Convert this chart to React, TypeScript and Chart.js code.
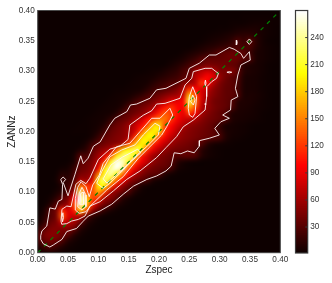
import React, { useEffect, useRef } from "react";
import { Chart, registerables } from "chart.js";

Chart.register(...registerables);

const FONT = "'Liberation Sans', Arial, sans-serif";
const V_MIN = 1.2;
const V_MAX = 270;

const heatStep = 0.01;
const heatBackground = 2;
// each row: y = index * 0.01, [first column index, ...values from that column on]
const heatRows: number[][] = [
  [0, 4, 7, 9, 7, 4, 3],
  [0, 10, 22, 30, 22, 11, 5, 3],
  [0, 22, 36, 44, 40, 30, 12, 6, 3],
  [0, 26, 44, 52, 50, 40, 32, 14, 6, 3],
  [0, 14, 32, 46, 50, 48, 50, 40, 14, 6, 3],
  [0, 6, 16, 38, 46, 76, 70, 62, 38, 14, 6, 3],
  [0, 3, 10, 30, 42, 135, 85, 75, 68, 34, 16, 7, 3],
  [0, 2, 6, 30, 42, 115, 82, 110, 180, 130, 58, 34, 18, 8, 4],
  [1, 3, 10, 30, 46, 60, 130, 260, 185, 112, 62, 42, 32, 12, 6, 3],
  [2, 5, 14, 32, 46, 100, 270, 190, 125, 122, 62, 50, 36, 14, 7, 3],
  [3, 6, 14, 30, 65, 235, 125, 130, 165, 125, 65, 50, 37, 26, 10, 4],
  [3, 3, 10, 22, 42, 145, 125, 118, 195, 195, 130, 85, 55, 38, 26, 9, 4],
  [3, 4, 20, 14, 28, 65, 58, 85, 195, 235, 195, 140, 100, 60, 45, 34, 26, 10, 5, 3],
  [3, 3, 12, 10, 24, 45, 50, 60, 150, 210, 250, 205, 145, 100, 68, 52, 40, 36, 32, 12, 5, 3],
  [4, 4, 6, 18, 38, 42, 55, 90, 190, 240, 270, 240, 135, 95, 70, 52, 42, 38, 35, 26, 8, 4, 3],
  [5, 3, 8, 34, 38, 48, 72, 120, 205, 262, 255, 205, 130, 95, 75, 55, 45, 40, 34, 14, 7, 4, 3],
  [6, 6, 30, 25, 42, 60, 85, 125, 195, 232, 238, 200, 115, 85, 60, 50, 44, 38, 30, 34, 34, 30, 12, 6, 4, 3],
  [6, 3, 8, 15, 34, 48, 58, 70, 130, 185, 205, 225, 205, 120, 90, 68, 55, 46, 42, 40, 38, 32, 14, 7, 4, 3],
  [7, 3, 8, 22, 34, 42, 48, 52, 62, 128, 170, 195, 190, 120, 95, 72, 60, 50, 46, 42, 36, 30, 14, 7, 5, 4, 3],
  [8, 3, 8, 20, 36, 42, 48, 52, 65, 120, 185, 198, 195, 120, 95, 72, 60, 52, 48, 44, 40, 36, 32, 26, 10, 5, 4, 3],
  [6, 3, 3, 3, 5, 10, 24, 38, 44, 50, 62, 80, 125, 185, 195, 188, 112, 90, 68, 56, 50, 46, 42, 38, 34, 22, 9, 6, 5, 4, 3],
  [7, 3, 3, 4, 6, 12, 30, 40, 46, 60, 75, 95, 125, 185, 190, 122, 100, 82, 68, 55, 50, 45, 40, 33, 18, 7, 6, 5, 4, 3],
  [8, 3, 4, 5, 7, 16, 30, 38, 44, 60, 75, 100, 128, 150, 145, 120, 95, 82, 72, 65, 52, 44, 40, 36, 28, 10, 7, 6, 5, 4, 3],
  [9, 3, 4, 5, 6, 12, 28, 36, 42, 50, 62, 85, 110, 135, 122, 105, 90, 120, 95, 64, 50, 42, 36, 28, 10, 8, 7, 6, 5, 3],
  [10, 3, 4, 5, 6, 12, 28, 36, 42, 50, 62, 85, 105, 120, 100, 95, 165, 125, 72, 56, 46, 40, 36, 28, 10, 8, 7, 5, 4, 3],
  [11, 3, 4, 5, 7, 12, 22, 30, 36, 46, 56, 70, 85, 90, 100, 215, 145, 80, 58, 44, 40, 36, 30, 12, 9, 8, 6, 4, 3],
  [12, 3, 4, 5, 6, 10, 16, 24, 32, 42, 50, 58, 62, 78, 178, 125, 85, 62, 50, 42, 36, 34, 28, 8, 8, 7, 5, 3],
  [13, 3, 3, 4, 5, 6, 12, 20, 26, 32, 38, 48, 68, 120, 100, 85, 72, 54, 44, 36, 34, 24, 8, 7, 6, 4, 3],
  [15, 3, 4, 5, 6, 12, 18, 22, 28, 30, 48, 60, 72, 120, 98, 68, 48, 38, 34, 26, 8, 7, 6, 4, 3],
  [16, 3, 4, 5, 6, 10, 14, 18, 22, 30, 40, 72, 85, 100, 85, 58, 42, 34, 28, 9, 7, 6, 4, 3],
  [18, 3, 4, 5, 8, 12, 16, 26, 34, 58, 70, 78, 70, 48, 45, 50, 34, 12, 9, 7, 5, 3],
  [21, 3, 6, 10, 16, 24, 34, 40, 46, 44, 42, 40, 36, 32, 12, 9, 7, 5, 3],
  [22, 3, 5, 8, 14, 20, 30, 36, 36, 36, 38, 40, 38, 32, 28, 8, 6, 4, 3],
  [24, 4, 7, 10, 14, 18, 24, 32, 36, 38, 36, 32, 20, 8, 6, 4, 3],
  [26, 4, 7, 10, 12, 16, 20, 24, 26, 24, 26, 12, 6, 4, 3],
  [27, 3, 5, 7, 9, 11, 16, 28, 18, 32, 14, 6, 3],
  [28, 3, 4, 5, 7, 9, 12, 14, 14, 10, 6, 4, 3],
  [30, 3, 3, 4, 6, 7, 8, 8, 6, 4, 3],
  [32, 3, 3, 3, 4, 5, 5, 4, 3, 3],
  [34, 3, 3, 3, 3, 3, 3, 3],
  [40],
];

const contourOuter = [
  [.005,.028],[.007,.036],[.015,.044],[.020,.074],[.029,.072],[.034,.085],[.040,.088],[.041,.113],[.038,.121],[.042,.125],[.046,.121],[.042,.116],[.050,.094],[.0615,.1295],[.071,.160],[.075,.147],[.083,.156],[.092,.176],[.103,.183],[.119,.211],[.127,.222],[.147,.233],[.153,.244],[.163,.2455],[.185,.255],[.196,.269],[.2115,.2715],[.2445,.288],[.25,.3045],[.2665,.313],[.283,.3265],[.294,.3265],[.316,.339],[.324,.336],[.335,.329],[.3395,.321],[.349,.332],[.3505,.318],[.335,.310],[.33,.2935],[.326,.2715],[.33,.2577],[.319,.252],[.318,.2357],[.305,.2274],[.316,.222],[.302,.2163],[.292,.2054],[.2995,.1944],[.283,.189],[.2665,.185],[.2665,.176],[.258,.165],[.247,.168],[.236,.1635],[.225,.165],[.22,.143],[.2115,.135],[.196,.1267],[.18,.121],[.158,.110],[.141,.0965],[.122,.080],[.103,.069],[.0835,.0605],[.075,.052],[.064,.040],[.048,.035],[.040,.022],[.0257,.0127],[.02,.0094],[.009,.0149],[.005,.022],[.005,.028],
];
const contourSecond = [
  [.0384,.0523],[.040,.0717],[.048,.077],[.055,.076],[.063,.113],[.071,.1196],[.0796,.114],[.086,.123],[.100,.154],[.119,.171],[.136,.176],[.149,.187],[.152,.211],[.174,.227],[.188,.2345],[.196,.2455],[.21,.2467],[.2346,.255],[.243,.277],[.254,.288],[.2566,.299],[.276,.3045],[.287,.3045],[.298,.296],[.295,.288],[.287,.2825],[.2786,.274],[.2786,.2577],[.276,.2357],[.2566,.219],[.240,.208],[.229,.1916],[.2115,.1734],[.196,.157],[.1687,.135],[.1467,.121],[.1247,.102],[.1027,.0842],[.0862,.077],[.078,.0606],[.067,.055],[.056,.0523],[.048,.048],[.0396,.047],[.0384,.0523],
];
const contourThird = [
  [.062,.0705],[.062,.0898],[.066,.108],[.0714,.1173],[.0796,.109],[.085,.0925],[.0907,.1118],[.1016,.1283],[.108,.1476],[.130,.175],[.152,.1807],[.1687,.200],[.188,.222],[.2016,.222],[.218,.2385],[.2226,.2274],[.2127,.208],[.2044,.1944],[.1824,.1724],[.166,.156],[.141,.1255],[.1138,.1035],[.088,.0785],[.0796,.0677],[.0686,.065],[.062,.0705],
];
const contourFourth = [
  [.0973,.1146],[.1055,.1338],[.119,.1585],[.1385,.1696],[.1604,.178],[.174,.1944],[.1934,.2137],[.2016,.209],[.1989,.1944],[.1797,.175],[.1576,.156],[.141,.1366],[.119,.1146],[.108,.1064],[.0973,.1146],
];
const contourFifth = [
  [.108,.122],[.121,.145],[.14,.158],[.165,.171],[.17,.165],[.148,.145],[.128,.127],[.114,.115],[.108,.122],
];
const contourPeakA = [[.041,.051],[.0425,.058],[.0415,.066],[.040,.058],[.041,.051]];
const contourPeakB = [[.066,.076],[.0686,.098],[.073,.108],[.0796,.0953],[.0796,.076],[.073,.0705],[.066,.076]];
const contourPeakC = [[.069,.08],[.071,.098],[.075,.1],[.076,.08],[.069,.08]];
const contourPeakD = [[.2483,.2385],[.25,.2577],[.2556,.274],[.262,.2577],[.2594,.230],[.2556,.2236],[.25,.2274],[.2483,.2385]];
const contourPeakE = [[.2523,.2494],[.2556,.2604],[.2594,.2523],[.2566,.244],[.2523,.2494]];
const contourSpotA = [[.345,.3485],[.349,.353],[.353,.3485],[.349,.344],[.345,.3485]];
const contourSpotB = [[.328,.343],[.329,.347],[.328,.351],[.327,.347],[.328,.343]];
const contourSpotC = [[.312,.298],[.316,.299],[.32,.298],[.316,.297],[.312,.298]];
const contourSpotD = [[.2765,.276],[.2775,.28],[.2765,.285],[.2755,.28],[.2765,.276]];
const contourSpotE = [[.2755,.2455],[.2765,.247],[.2775,.2455],[.2765,.244],[.2755,.2455]];
const contours = [contourOuter, contourSecond, contourThird, contourFourth, contourFifth, contourPeakA, contourPeakB, contourPeakC, contourPeakD, contourPeakE, contourSpotA, contourSpotB, contourSpotC, contourSpotD, contourSpotE];

const identityLine = [[0, 0], [0.4, 0.4]];
const axisTicks = [0, 0.05, 0.1, 0.15, 0.2, 0.25, 0.3, 0.35, 0.4];
const colorbarTicks = [30, 60, 90, 120, 150, 180, 210, 240];
const xTitle = "Zspec";
const yTitle = "ZANNz";

function hot(v: number): [number, number, number] {
  const f = Math.min(1, Math.max(0, (v - V_MIN) / (V_MAX - V_MIN)));
  const r = Math.min(1, 0.0416 + (f / 0.365) * (1 - 0.0416));
  const g = Math.min(1, Math.max(0, (f - 0.365) / 0.381));
  const b = Math.min(1, Math.max(0, (f - 0.746) / 0.254));
  return [Math.round(r * 255), Math.round(g * 255), Math.round(b * 255)];
}

const heatCells: { x: number; y: number; v: number }[] = [];
heatRows.forEach((row, j) => {
  for (let i = 0; i <= 40; i++) {
    const k = i - row[0] + 1;
    const v = k >= 1 && k < row.length ? row[k] : heatBackground;
    heatCells.push({ x: i * heatStep, y: j * heatStep, v });
  }
});

const heatPlugin = {
  id: "heat",
  beforeDatasetsDraw(chart: any) {
    const { ctx, chartArea, scales } = chart;
    const cells = chart.data.datasets[0].data as typeof heatCells;
    const n = 41;
    const off = document.createElement("canvas");
    off.width = n;
    off.height = n;
    const octx = off.getContext("2d")!;
    const img = octx.createImageData(n, n);
    cells.forEach((c) => {
      const i = Math.round(c.x / heatStep);
      const j = n - 1 - Math.round(c.y / heatStep);
      const [r, g, b] = hot(c.v);
      const p = (j * n + i) * 4;
      img.data[p] = r;
      img.data[p + 1] = g;
      img.data[p + 2] = b;
      img.data[p + 3] = 255;
    });
    octx.putImageData(img, 0, 0);
    const x0 = scales.x.getPixelForValue(-heatStep / 2);
    const x1 = scales.x.getPixelForValue(0.4 + heatStep / 2);
    const y0 = scales.y.getPixelForValue(0.4 + heatStep / 2);
    const y1 = scales.y.getPixelForValue(-heatStep / 2);
    ctx.save();
    ctx.beginPath();
    ctx.rect(chartArea.left, chartArea.top, chartArea.right - chartArea.left, chartArea.bottom - chartArea.top);
    ctx.clip();
    ctx.fillStyle = "rgb(11,0,0)";
    ctx.fillRect(chartArea.left, chartArea.top, chartArea.right - chartArea.left, chartArea.bottom - chartArea.top);
    ctx.imageSmoothingEnabled = true;
    ctx.imageSmoothingQuality = "high";
    ctx.filter = "blur(1.3px)";
    ctx.drawImage(off, x0, y0, x1 - x0, y1 - y0);
    ctx.filter = "none";
    ctx.restore();
  },
  afterDatasetsDraw(chart: any) {
    const { ctx, chartArea: a } = chart;
    ctx.save();
    ctx.strokeStyle = "#4a4a4a";
    ctx.lineWidth = 1;
    ctx.strokeRect(a.left, a.top, a.right - a.left, a.bottom - a.top);
    ctx.restore();
  },
};

const barPlugin = {
  id: "barFrame",
  afterDatasetsDraw(chart: any) {
    const { ctx, chartArea: a, scales } = chart;
    ctx.save();
    ctx.strokeStyle = "#3a3a3a";
    ctx.lineWidth = 1;
    colorbarTicks.forEach((t) => {
      const y = scales.y.getPixelForValue(t);
      ctx.beginPath();
      ctx.moveTo(a.right - 2.5, y);
      ctx.lineTo(a.right, y);
      ctx.stroke();
    });
    ctx.lineWidth = 1.2;
    ctx.strokeRect(a.left, a.top, a.right - a.left, a.bottom - a.top);
    ctx.restore();
  },
};

const tickFont = { family: FONT, size: 8.2 };
const toPoints = (pts: number[][]) => pts.map(([x, y]) => ({ x, y }));

export default function App() {
  const mainRef = useRef<HTMLCanvasElement>(null);
  const barRef = useRef<HTMLCanvasElement>(null);

  useEffect(() => {
    const main = new Chart(mainRef.current!, {
      type: "scatter",
      plugins: [heatPlugin],
      data: {
        datasets: [
          { label: "density", data: heatCells, pointRadius: 0, showLine: false } as any,
          ...contours.map((c, i) => ({
            label: "contour " + i,
            data: toPoints(c),
            showLine: true,
            pointRadius: 0,
            borderColor: "rgba(255,245,245,0.9)",
            borderWidth: 1,
            tension: 0,
          })),
          {
            label: "y = x",
            data: toPoints(identityLine),
            showLine: true,
            pointRadius: 0,
            borderColor: "#008000",
            borderWidth: 1.2,
            borderDash: [4, 5],
          },
        ],
      },
      options: {
        responsive: false,
        animation: false,
        events: [],
        layout: { padding: { left: 0, top: 10.5, right: 51.7, bottom: 0 } },
        plugins: { legend: { display: false }, tooltip: { enabled: false } },
        scales: {
          x: {
            type: "linear",
            min: 0,
            max: 0.4,
            grid: { display: false, drawTicks: false },
            border: { display: false },
            afterFit: (s: any) => { s.height = 30.3; },
            afterBuildTicks: (s: any) => { s.ticks = axisTicks.map((value) => ({ value })); },
            ticks: { font: tickFont, color: "#333", padding: 2, maxRotation: 0, autoSkip: false, callback: (v: any) => Number(v).toFixed(2) },
            title: { display: true, text: xTitle, font: { family: FONT, size: 10 }, color: "#222", padding: { top: 0, bottom: 7 } },
          },
          y: {
            type: "linear",
            min: 0,
            max: 0.4,
            grid: { display: false, drawTicks: false },
            border: { display: false },
            afterFit: (s: any) => { s.width = 37.7; },
            afterBuildTicks: (s: any) => { s.ticks = axisTicks.map((value) => ({ value })); },
            ticks: { font: tickFont, color: "#333", padding: 3, autoSkip: false, callback: (v: any) => Number(v).toFixed(2) },
            title: { display: true, text: yTitle, font: { family: FONT, size: 10 }, color: "#222", padding: { top: 6, bottom: 0 } },
          },
        },
      } as any,
    });

    const levels: number[] = [];
    for (let v = V_MIN; v <= V_MAX + 3; v += 2) levels.push(v);
    const bar = new Chart(barRef.current!, {
      type: "bar",
      plugins: [barPlugin],
      data: {
        datasets: [
          {
            data: levels.map((y) => ({ x: 1, y })),
            backgroundColor: levels.map((v) => {
              const [r, g, b] = hot(v);
              return `rgb(${r},${g},${b})`;
            }),
            borderWidth: 0,
            barThickness: 3,
          } as any,
        ],
      },
      options: {
        indexAxis: "y",
        responsive: false,
        animation: false,
        events: [],
        layout: { padding: { left: 15.5, top: 10.5, right: 0, bottom: 30 } },
        plugins: { legend: { display: false }, tooltip: { enabled: false } },
        scales: {
          x: { type: "linear", min: 0, max: 1, display: false },
          y: {
            type: "linear",
            position: "right",
            min: V_MIN,
            max: V_MAX,
            offset: false,
            grid: { display: false, offset: false, drawTicks: false },
            border: { display: false },
            afterFit: (s: any) => { s.width = 24.3; },
            afterBuildTicks: (s: any) => { s.ticks = colorbarTicks.map((value) => ({ value })); },
            ticks: { font: tickFont, color: "#333", padding: 2.5, autoSkip: false },
          },
        },
      } as any,
    });

    return () => {
      main.destroy();
      bar.destroy();
    };
  }, []);

  return (
    <div style={{ position: "absolute", left: 0, top: 0, width: 332, height: 283, background: "#fff", overflow: "hidden" }}>
      <canvas ref={mainRef} width={332} height={283} style={{ position: "absolute", left: 0, top: 0 }} />
      <canvas ref={barRef} width={52} height={283} style={{ position: "absolute", left: 280, top: 0 }} />
    </div>
  );
}
